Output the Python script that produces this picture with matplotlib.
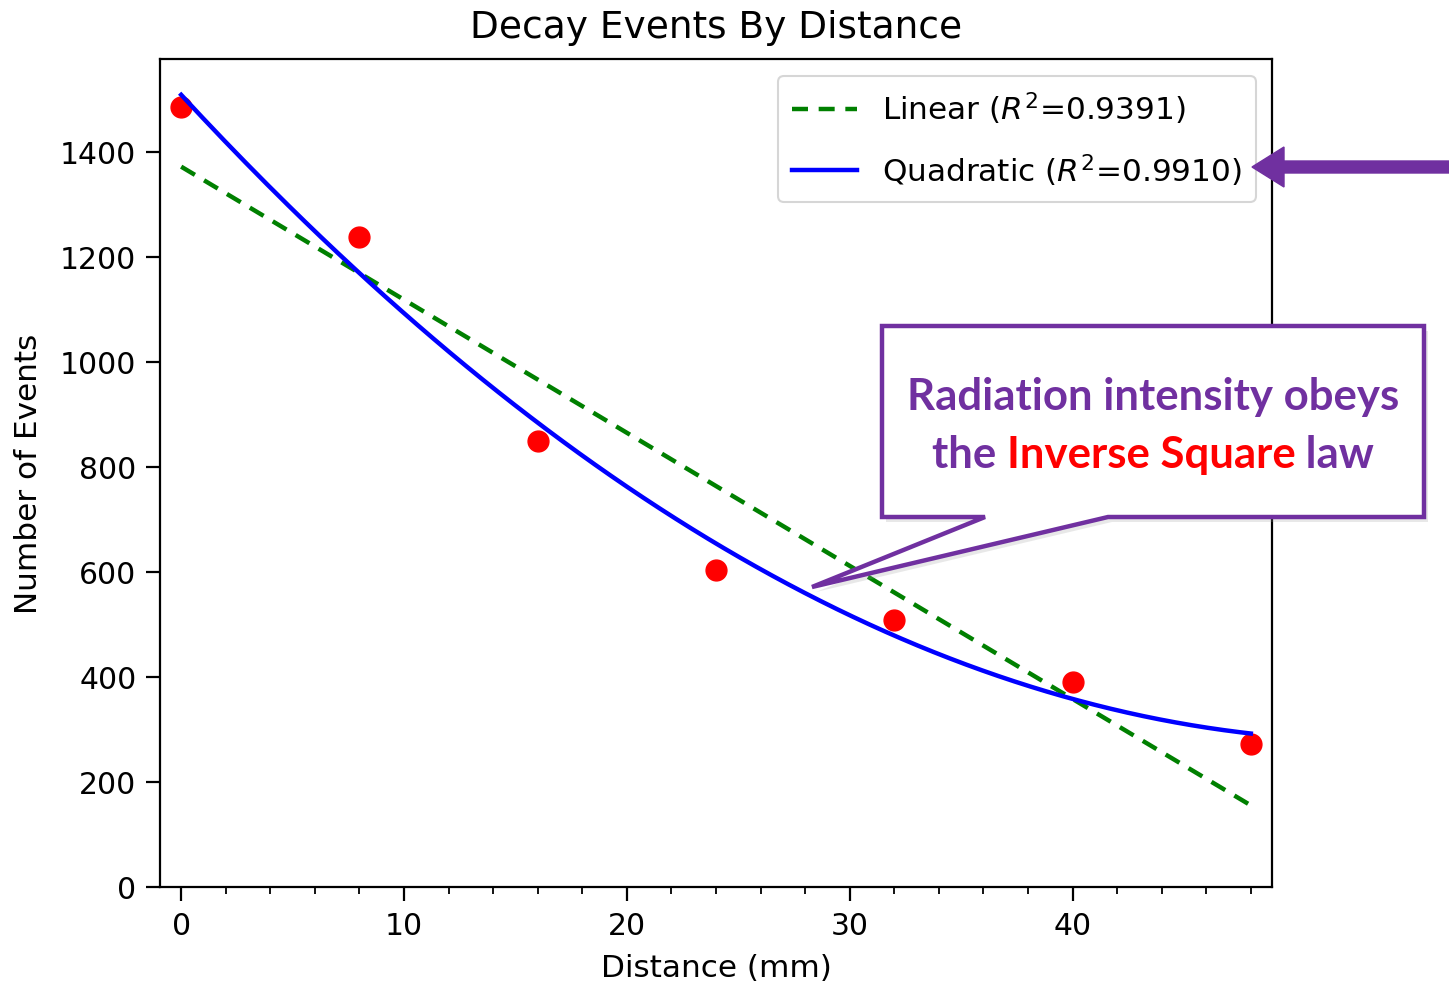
import matplotlib.pyplot as plt
import numpy as np
from matplotlib.patches import Polygon, FancyArrow

# data
distance = [0, 8, 16, 24, 32, 40, 48]
events = [1485, 1238, 850, 603, 508, 390, 272]
r2_linear = 0.9391
r2_quad = 0.9910

W, H = 1449, 987
fig = plt.figure(figsize=(W / 100, H / 100), dpi=100)
ax = fig.add_axes([160 / W, 1 - 888 / H, (1272 - 160) / W, (888 - 60) / H])

x = np.array(distance)
y = np.array(events)

# fits from the points
lin = np.polyfit(x, y, 1)
quad = np.polyfit(x, y, 2)
xs = np.linspace(x.min(), x.max(), 200)

ax.plot(x, y, 'o', color='red', markersize=15, zorder=1)
ax.plot(xs, np.polyval(lin, xs), '--', color='green', lw=3.2, dashes=(3.6, 2.4),
        label=f'Linear ($R^2$={r2_linear:.4f})', zorder=2)
ax.plot(xs, np.polyval(quad, xs), '-', color='blue', lw=3.2,
        label=f'Quadratic ($R^2$={r2_quad:.4f})', zorder=3)

ax.set_xlim(-0.95, 48.95)
ax.set_ylim(0, 1577)
ax.set_xticks([0, 10, 20, 30, 40])
ax.set_xticks(np.arange(0, 49, 2), minor=True)
ax.set_yticks(np.arange(0, 1401, 200))
ax.tick_params(axis='both', which='major', labelsize=21.5, length=10, width=1.6, pad=7)
ax.tick_params(axis='x', which='minor', length=5, width=1.3)
for s in ax.spines.values():
    s.set_linewidth(1.6)

ax.set_title('Decay Events By Distance', fontsize=27, pad=16)
ax.set_xlabel('Distance (mm)', fontsize=22.4, labelpad=10)
ax.set_ylabel('Number of Events', fontsize=22.4, labelpad=12)
leg = ax.legend(loc='upper right', fontsize=22.4, handlelength=2.1,
                borderpad=0.45, labelspacing=0.8, framealpha=0.8,
                borderaxespad=0, bbox_to_anchor=(0.9856, 0.9795))
leg.get_frame().set_linewidth(1.5)


def fx(px):
    return px / W


def fy(py):
    return 1 - py / H


purple = '#7030A0'

# callout box with tail
pts = [(882, 327), (1424, 327), (1424, 518), (1108, 518), (812, 588),
       (985, 518), (882, 518)]
shadow = Polygon([(fx(a + 4), fy(b + 5)) for a, b in pts], closed=True,
                 transform=fig.transFigure, facecolor='#999999', alpha=0.22,
                 edgecolor='none', zorder=9)
box = Polygon([(fx(a), fy(b)) for a, b in pts], closed=True,
              transform=fig.transFigure, facecolor='white', edgecolor=purple,
              lw=3.2, joinstyle='miter', zorder=10)
fig.patches.extend([shadow, box])

font = dict(family='Lato', weight='bold', fontsize=31.5)
fig.text(fx(1153), fy(397), 'Radiation intensity obeys', color=purple,
         ha='center', va='center', zorder=11, **font)

# second line with a red part in the middle
parts = [('the ', purple), ('Inverse Square', 'red'), (' law', purple)]
renderer = fig.canvas.get_renderer()
texts = []
for s, c in parts:
    t = fig.text(0, fy(455), s, color=c, ha='left', va='center', zorder=11, **font)
    texts.append(t)
widths = [t.get_window_extent(renderer).width for t in texts]
start = 1153 - sum(widths) / 2
for t, w in zip(texts, widths):
    t.set_x(fx(start))
    start += w

# arrow pointing at the quadratic legend entry
arr = FancyArrow(fx(1449), fy(168), fx(1252) - fx(1449), 0,
                 width=12 / H, head_width=40 / H, head_length=32 / W,
                 length_includes_head=True, transform=fig.transFigure,
                 color=purple, zorder=12)
fig.patches.append(arr)

fig.savefig('out.png', dpi=100)
